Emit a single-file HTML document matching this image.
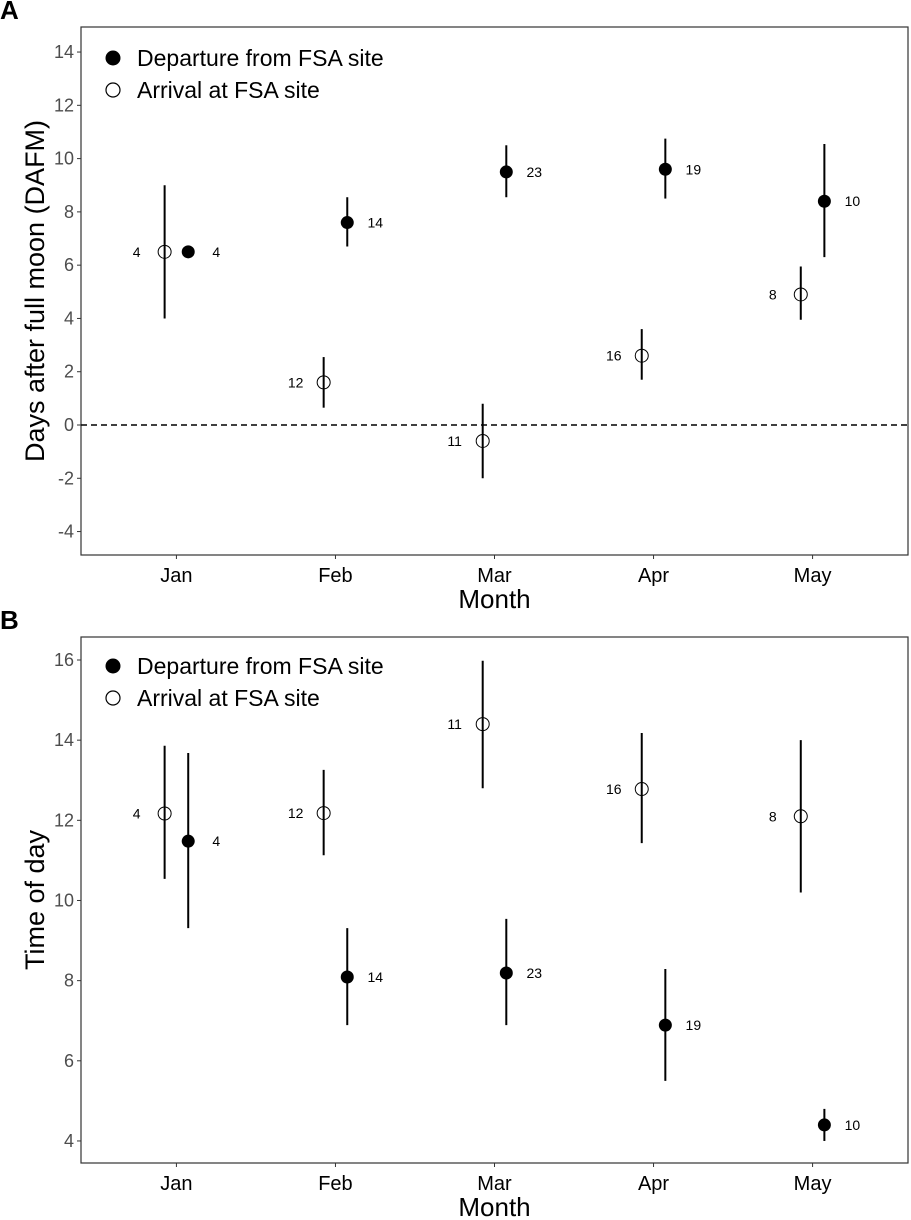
<!DOCTYPE html>
<html><head><meta charset="utf-8"><style>
html,body{margin:0;padding:0;background:#fff;}
svg{display:block;font-family:"Liberation Sans",Arial,sans-serif;}
</style></head><body>
<svg id="chart" width="911" height="1220" xmlns="http://www.w3.org/2000/svg"></svg>
<script>
const months = ["Jan","Feb","Mar","Apr","May"];
// Panel A: days after full moon
const aArrMean = [6.5, 1.6, -0.6, 2.6, 4.9];
const aArrLo = [4.0, 0.65, -2.0, 1.7, 3.95];
const aArrHi = [9.0, 2.55, 0.8, 3.6, 5.95];
const aArrN = [4, 12, 11, 16, 8];
const aDepMean = [6.5, 7.6, 9.5, 9.6, 8.4];
const aDepLo = [6.3, 6.7, 8.55, 8.5, 6.3];
const aDepHi = [6.7, 8.55, 10.5, 10.75, 10.55];
const aDepN = [4, 14, 23, 19, 10];
const aTicks = [-4,-2,0,2,4,6,8,10,12,14];
// Panel B: time of day
const bArrMean = [12.17, 12.18, 14.4, 12.78, 12.1];
const bArrLo = [10.54, 11.13, 12.8, 11.43, 10.2];
const bArrHi = [13.86, 13.26, 15.98, 14.18, 14.0];
const bArrN = [4, 12, 11, 16, 8];
const bDepMean = [11.48, 8.09, 8.19, 6.89, 4.4];
const bDepLo = [9.31, 6.89, 6.89, 5.5, 4.0];
const bDepHi = [13.68, 9.31, 9.54, 8.29, 4.8];
const bDepN = [4, 14, 23, 19, 10];
const bTicks = [4,6,8,10,12,14,16];

const NS="http://www.w3.org/2000/svg";
const svg=document.getElementById('chart');
function mk(tag,attrs,parent,text){const e=document.createElementNS(NS,tag);for(const k in attrs)e.setAttribute(k,attrs[k]);if(text!==undefined)e.textContent=text;(parent||svg).appendChild(e);return e;}

const L=81,R=908;
const xUnit=(R-L)/5.2;
function xPos(i){return L+(0.6+i)*xUnit;}
const dodge=11.8;

function panel(cfg){
  const g=mk('g',{});
  
  
  const y=v=>cfg.y0+(cfg.v0-v)*cfg.ppu;
  const lab=mk('text',{x:0,y:cfg.top-8,'font-size':26,'font-weight':'bold'},g,cfg.letter);
  
  
  const box=mk('rect',{x:L,y:cfg.top,width:R-L,height:cfg.bottom-cfg.top,fill:'none',stroke:'#333','stroke-width':1.2},g);
  
  
  cfg.ticks.forEach(t=>{
    const yy=y(t);
    mk('line',{x1:L-4,x2:L,y1:yy,y2:yy,stroke:'#333'},g);
    const tl=mk('text',{x:L-7,y:yy+6,'text-anchor':'end','font-size':18,fill:'#4d4d4d'},g,t);
    
    
  });
  months.forEach((m,i)=>{
    const xx=xPos(i);
    mk('line',{x1:xx,x2:xx,y1:cfg.bottom,y2:cfg.bottom+4,stroke:'#333'},g);
    const tl=mk('text',{x:xx,y:cfg.bottom+27,'text-anchor':'middle','font-size':20,fill:'#000'},g,m);
    
    
  });
  const xt=mk('text',{x:(L+R)/2,y:cfg.bottom+53,'text-anchor':'middle','font-size':26},g,'Month');
  
  
  const cy=(cfg.top+cfg.bottom)/2;
  const yt=mk('text',{x:44,y:cy,'text-anchor':'middle','font-size':27,transform:`rotate(-90 44 ${cy})`},g,cfg.ytitle);
  
  
  if(cfg.zero){
    const z=mk('line',{x1:L,x2:R,y1:y(0),y2:y(0),stroke:'#000','stroke-width':1.5,'stroke-dasharray':'6,4'},g);
    
    
  }
  months.forEach((m,i)=>{
    const xa=xPos(i)-dodge, xd=xPos(i)+dodge;
    const ea=mk('line',{x1:xa,x2:xa,y1:y(cfg.arrHi[i]),y2:y(cfg.arrLo[i]),stroke:'#000','stroke-width':2},g);
    
    
    const pa=mk('circle',{cx:xa,cy:y(cfg.arrMean[i]),r:6.5,fill:'none',stroke:'#000','stroke-width':1},g);
    
    
    const na=mk('text',{x:xa-28,y:y(cfg.arrMean[i])+5,'text-anchor':'middle','font-size':14},g,cfg.arrN[i]);
    
    
    const ed=mk('line',{x1:xd,x2:xd,y1:y(cfg.depHi[i]),y2:y(cfg.depLo[i]),stroke:'#000','stroke-width':2},g);
    
    
    const pd=mk('circle',{cx:xd,cy:y(cfg.depMean[i]),r:6.5,fill:'#000'},g);
    
    
    const nd=mk('text',{x:xd+28,y:y(cfg.depMean[i])+5,'text-anchor':'middle','font-size':14},g,cfg.depN[i]);
    
    
  });
  const lg=mk('g',{},g);
  
  
  const l1=mk('g',{},lg);
  
  
  mk('circle',{cx:113,cy:cfg.leg,r:7.5,fill:'#000'},l1);
  mk('text',{x:137,y:cfg.leg+8,'font-size':23},l1,'Departure from FSA site');
  const l2=mk('g',{},lg);
  
  
  mk('circle',{cx:113,cy:cfg.leg+32,r:7,fill:'none',stroke:'#000','stroke-width':1.2},l2);
  mk('text',{x:137,y:cfg.leg+40,'font-size':23},l2,'Arrival at FSA site');
}

panel({name:'panel-a',letter:'A',top:27,bottom:555,y0:425,v0:0,ppu:26.64,ticks:aTicks,zero:true,
  ytitle:'Days after full moon (DAFM)',leg:58,
  arrMean:aArrMean,arrLo:aArrLo,arrHi:aArrHi,arrN:aArrN,depMean:aDepMean,depLo:aDepLo,depHi:aDepHi,depN:aDepN});
panel({name:'panel-b',letter:'B',top:637,bottom:1163,y0:660,v0:16,ppu:40.08,ticks:bTicks,zero:false,
  ytitle:'Time of day',leg:666,
  arrMean:bArrMean,arrLo:bArrLo,arrHi:bArrHi,arrN:bArrN,depMean:bDepMean,depLo:bDepLo,depHi:bDepHi,depN:bDepN});
</script>
</body></html>
